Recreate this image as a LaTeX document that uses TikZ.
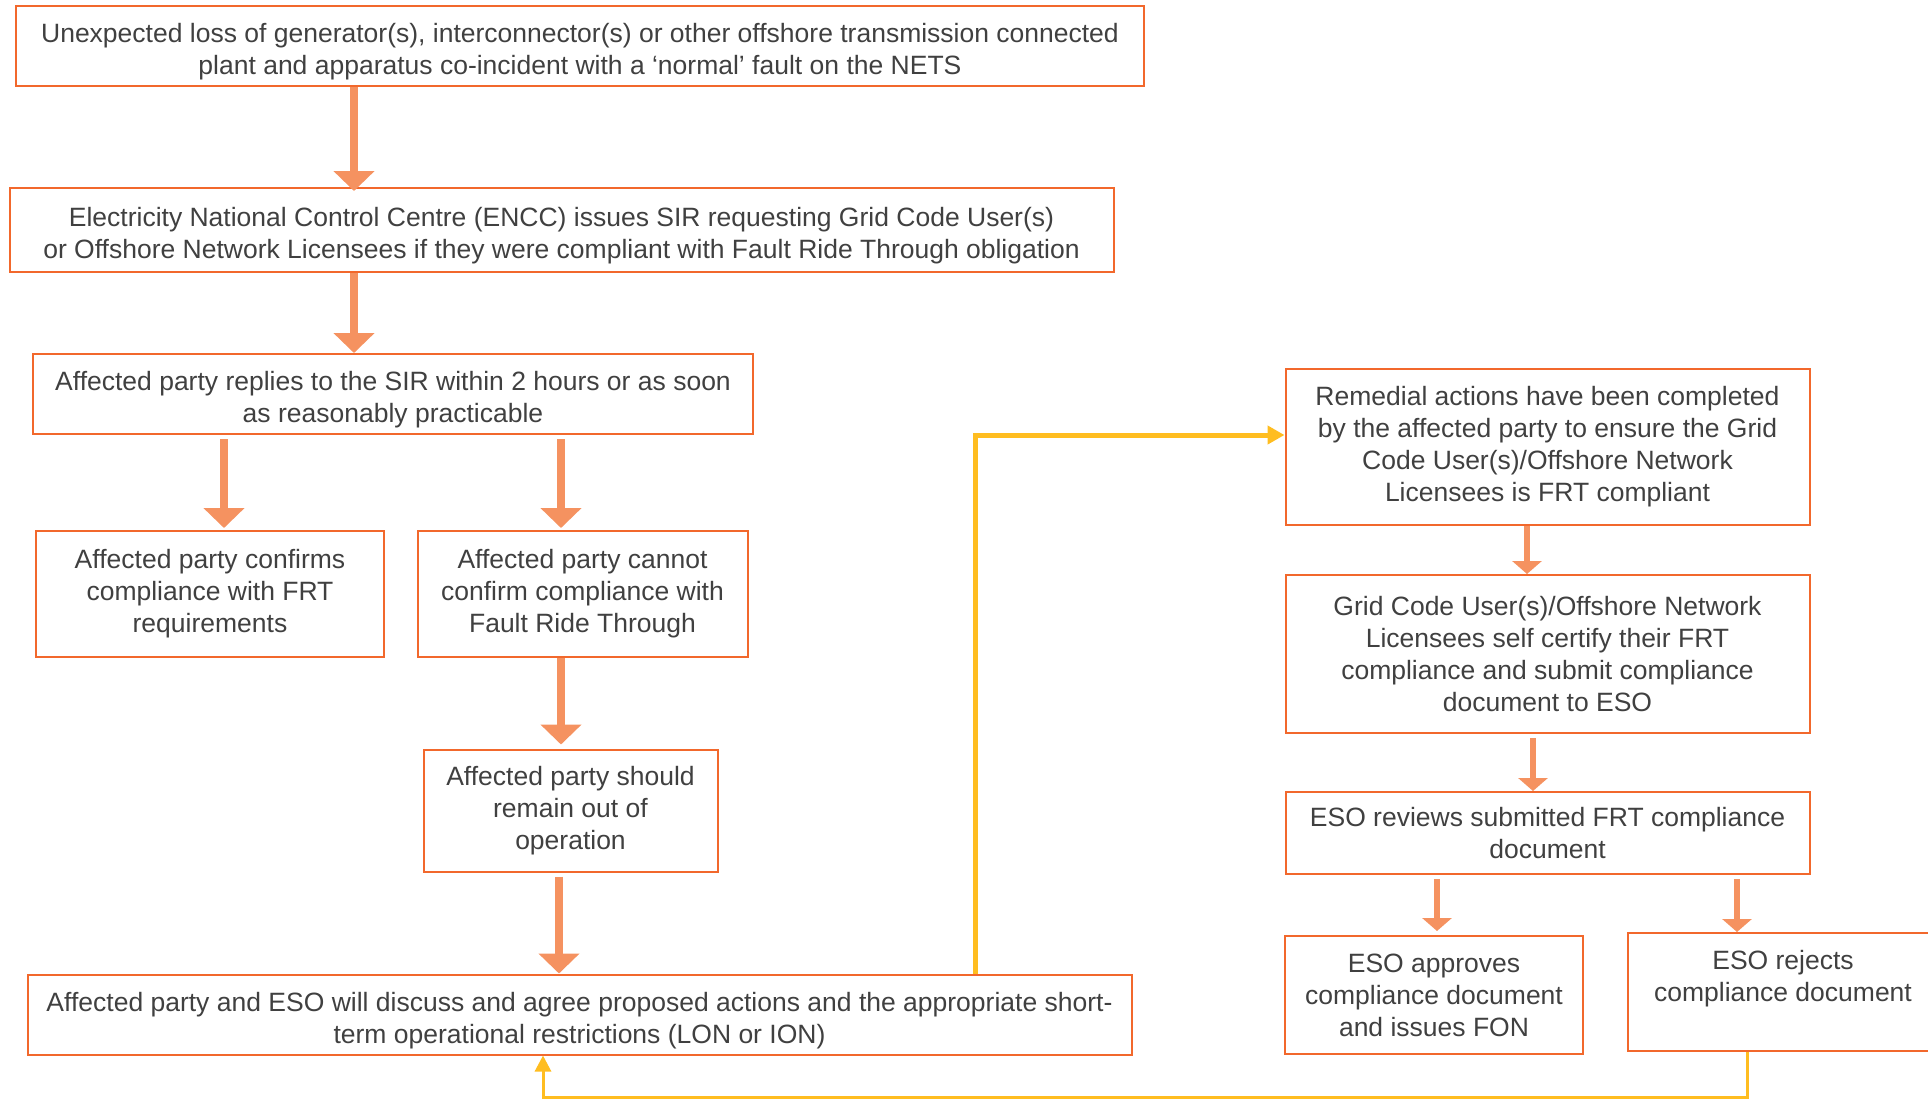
\documentclass[tikz,border=0pt]{standalone}
\usepackage{fontspec}
\setmainfont{Liberation Sans}
\usetikzlibrary{arrows.meta}
\definecolor{boxline}{RGB}{242,104,44}
\definecolor{arrowfill}{RGB}{245,146,96}
\definecolor{loopline}{RGB}{255,189,32}
\definecolor{textgray}{RGB}{64,64,64}
\newcommand{\lowstrut}{\rule{0pt}{15.5pt}}

\begin{document}
\begin{tikzpicture}[x=0.5pt,y=-0.5pt]
\useasboundingbox (0,0) rectangle (1928,1100);
\begin{scope}[every node/.style={rectangle,draw=boxline,line width=1pt,text=textgray,align=center,inner sep=0pt,font=\fontsize{13.25pt}{16pt}\selectfont}]

    \node [minimum width=564pt, minimum height=40pt] (a) at (580,46) {\lowstrut Unexpected loss of generator(s), interconnector(s) or other offshore transmission connected\\plant and apparatus co-incident with a ‘normal’ fault on the NETS};
    \node [minimum width=552pt, minimum height=42pt] (b) at (561.5,230) {\lowstrut Electricity National Control Centre (ENCC) issues SIR requesting Grid Code User(s)\\or Offshore Network Licensees if they were compliant with Fault Ride Through obligation};
    \node [minimum width=360pt, minimum height=40pt] (c) at (393,394) {\lowstrut Affected party replies to the SIR within 2 hours or as soon\\as reasonably practicable};
    \node [minimum width=174pt, minimum height=63pt] (d) at (210,594) {Affected party confirms\\compliance with FRT\\requirements};
    \node [minimum width=165pt, minimum height=63pt] (e) at (582.5,594) {Affected party cannot\\confirm compliance with\\Fault Ride Through};
    \node [minimum width=147pt, minimum height=61pt] (f) at (570.5,810.5) {Affected party should\\remain out of\\operation};
    \node [minimum width=552pt, minimum height=40pt] (g) at (579.5,1014.5) {\lowstrut Affected party and ESO will discuss and agree proposed actions and the appropriate short-\\term operational restrictions (LON or ION)};

    \node [minimum width=262pt, minimum height=78pt] (h) at (1547.5,446.5) {Remedial actions have been completed\\by the affected party to ensure the Grid\\Code User(s)/Offshore Network\\Licensees is FRT compliant};
    \node [minimum width=262pt, minimum height=79pt] (i) at (1547.5,654) {Grid Code User(s)/Offshore Network\\Licensees self certify their FRT\\compliance and submit compliance\\document to ESO};
    \node [minimum width=262pt, minimum height=41pt] (j) at (1547.5,833) {ESO reviews submitted FRT compliance\\document};
    \node [minimum width=149pt, minimum height=59pt] (k) at (1434,995) {ESO approves\\compliance document\\and issues FON};
    \node [minimum width=155pt, minimum height=59pt] (l) at (1783,992) {ESO rejects\\compliance document\\\mbox{}};

    \draw [line width=4pt, arrowfill, -{Triangle[width=20pt,length=10pt]}] (a.south -| 354,0) -- ([yshift=-2pt]b.north -| 354,0);
    \draw [line width=4pt, arrowfill, -{Triangle[width=20pt,length=10pt]}] (b.south -| 354,0) -- (c.north -| 354,0);
    \draw [line width=4pt, arrowfill, -{Triangle[width=20pt,length=10pt]}] ([yshift=-2pt]c.south -| 224,0) -- ([yshift=1pt]d.north -| 224,0);
    \draw [line width=4pt, arrowfill, -{Triangle[width=20pt,length=10pt]}] ([yshift=-2pt]c.south -| 561,0) -- ([yshift=1pt]e.north -| 561,0);
    \draw [line width=4pt, arrowfill, -{Triangle[width=20pt,length=10pt]}] (e.south -| 561,0) -- ([yshift=2pt]f.north -| 561,0);
    \draw [line width=4pt, arrowfill, -{Triangle[width=20pt,length=10pt]}] ([yshift=-2pt]f.south -| 559,0) -- (g.north -| 559,0);

    \draw [line width=3pt, arrowfill, -{Triangle[width=14.5pt,length=6.5pt]}] (h.south -| 1527,0) -- (i.north -| 1527,0);
    \draw [line width=3pt, arrowfill, -{Triangle[width=14.5pt,length=6.5pt]}] ([yshift=-2pt]i.south -| 1533,0) -- (j.north -| 1533,0);
    \draw [line width=3pt, arrowfill, -{Triangle[width=14.5pt,length=6.5pt]}] ([yshift=-2pt]j.south -| 1437,0) -- ([yshift=2pt]k.north -| 1437,0);
    \draw [line width=3pt, arrowfill, -{Triangle[width=14.5pt,length=6.5pt]}] ([yshift=-2pt]j.south -| 1737,0) -- (l.north -| 1737,0);

    \draw [line width=2.5pt, loopline, -{Triangle[width=9pt,length=8.5pt]}] (g.north -| 975,0) |- (h.west |- 0,435);
    \draw [line width=1.5pt, loopline, -{Triangle[width=8pt,length=8pt]}] (l.south -| 1747,0) -- (1747,1097) -| (g.south -| 543,0);

\end{scope}

\end{tikzpicture}
\end{document}
